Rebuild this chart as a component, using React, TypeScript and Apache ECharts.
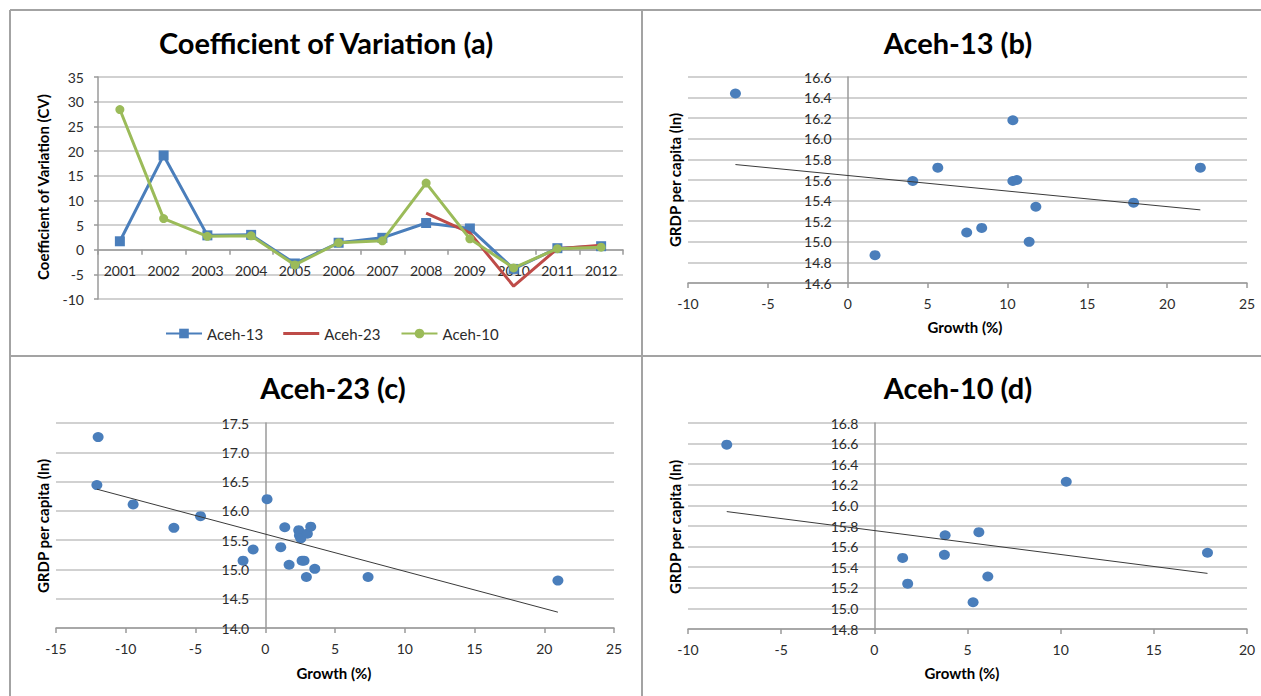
import React, { useEffect, useRef } from "react";
import * as echarts from "echarts";

// ---------- Data ----------
const years = ["2001", "2002", "2003", "2004", "2005", "2006", "2007", "2008", "2009", "2010", "2011", "2012"];
const aceh13CV = [1.7, 19.1, 2.9, 3.0, -2.8, 1.4, 2.4, 5.4, 4.3, -3.9, 0.3, 0.7];
const aceh23CV = [null, null, null, null, null, null, null, 7.4, 3.4, -7.4, 0.2, 0.9];
const aceh10CV = [28.4, 6.3, 2.7, 2.8, -3.1, 1.4, 1.8, 13.5, 2.2, -3.7, 0.2, 0.5];

const aceh13Growth = [-7.03, 1.71, 4.07, 5.64, 7.45, 8.39, 10.34, 10.34, 10.59, 11.36, 11.78, 17.9, 22.08];
const aceh13Grdp = [16.44, 14.87, 15.59, 15.72, 15.09, 15.135, 16.18, 15.59, 15.6, 15.0, 15.34, 15.38, 15.72];
const aceh13Trend = [[-7.03, 15.75], [22.08, 15.31]];

const aceh23Growth = [-12.07, -11.98, -9.47, -6.55, -4.64, -1.59, -0.87, 0.13, 1.11, 1.4, 1.71, 2.4, 2.45, 2.5, 2.55, 2.64, 2.78, 2.95, 3.02, 3.26, 3.55, 7.37, 20.98];
const aceh23Grdp = [16.44, 17.26, 16.11, 15.71, 15.91, 15.15, 15.34, 16.2, 15.38, 15.72, 15.08, 15.67, 15.58, 15.62, 15.53, 15.15, 15.15, 14.87, 15.61, 15.73, 15.01, 14.87, 14.81];
const aceh23Trend = [[-12.07, 16.37], [20.98, 14.27]];

const aceh10Growth = [-7.92, 1.52, 1.79, 3.76, 3.8, 5.3, 5.61, 6.09, 10.3, 17.88];
const aceh10Grdp = [16.59, 15.49, 15.24, 15.52, 15.71, 15.06, 15.74, 15.31, 16.23, 15.54];
const aceh10Trend = [[-7.92, 15.94], [17.88, 15.34]];

const panelTitles = ["Coefficient of Variation (a)", "Aceh-13 (b)", "Aceh-23 (c)", "Aceh-10 (d)"];
const cvAxisTitle = "Coefficient of Variation (CV)";
const grdpAxisTitle = "GRDP per capita (ln)";
const growthAxisTitle = "Growth (%)";

// ---------- Styles ----------
const FONT = "Lato, 'Open Sans', sans-serif";
const BLUE = "#4A7EBB";
const RED = "#BE4B48";
const GREEN = "#9BBB59";
const AXIS_COLOR = "#9a9a9a";
const GRID_COLOR = "#c2c2c2";
const LABEL_COLOR = "#2b2b2b";

const zip = (xs: number[], ys: number[]) => xs.map((x, i) => [x, ys[i]]);

// grid boxes: [left, top, width, height]
const GRIDS = [
  [98, 77, 525, 222],
  [688, 77, 559, 206],
  [56, 423, 558, 205],
  [688, 423, 559, 206],
];

export default function App() {
  const ref = useRef<HTMLDivElement>(null);

  useEffect(() => {
    if (!ref.current) return;
    const chart = echarts.init(ref.current, null, { renderer: "svg", width: 1261, height: 696 });

    const labelStyle = { color: LABEL_COLOR, fontFamily: FONT, fontSize: 14 };
    const axisLine = { show: true, onZero: false, lineStyle: { color: AXIS_COLOR, width: 1.5 } };
    const splitLine = { show: true, lineStyle: { color: GRID_COLOR, width: 1.6 } };
    const fmt1 = (v: number) => v.toFixed(1);

    // pixel distance from grid's left edge to x = 0
    const zeroOffsetX = (gi: number, min: number, max: number) =>
      -(GRIDS[gi][2] * (0 - min)) / (max - min);

    const valueX = (gi: number, min: number, max: number) => ({
      type: "value",
      gridIndex: gi,
      min,
      max,
      interval: 5,
      axisLine,
      axisTick: { show: true, length: 5, lineStyle: { color: AXIS_COLOR, width: 1.5 } },
      axisLabel: { ...labelStyle, margin: 13 },
      splitLine: { show: false },
    });
    const grdpY = (gi: number, min: number, max: number, interval: number, xmin: number, xmax: number) => ({
      type: "value",
      gridIndex: gi,
      min,
      max,
      interval,
      offset: zeroOffsetX(gi, xmin, xmax),
      axisLine,
      axisTick: { show: false },
      axisLabel: { ...labelStyle, margin: 16, formatter: fmt1 },
      splitLine,
    });

    const scatter = (name: string, idx: number, xs: number[], ys: number[]) => ({
      name,
      type: "scatter",
      xAxisIndex: idx,
      yAxisIndex: idx,
      data: zip(xs, ys),
      symbol: "circle",
      symbolSize: [11, 10],
      itemStyle: { color: BLUE, opacity: 1 },
      z: 3,
    });
    const trend = (name: string, idx: number, pts: number[][]) => ({
      name,
      type: "line",
      xAxisIndex: idx,
      yAxisIndex: idx,
      data: pts,
      symbol: "none",
      lineStyle: { color: "#3a3a3a", width: 1 },
      z: 4,
    });

    const txt = (text: string, x: number, y: number, size: number, rotated: boolean) => ({
      type: "text",
      x,
      y,
      rotation: rotated ? Math.PI / 2 : 0,
      style: {
        text,
        fill: "#000",
        fontFamily: FONT,
        fontSize: size,
        fontWeight: "bold",
        textAlign: "center",
        textVerticalAlign: "middle",
        align: "center",
        verticalAlign: "middle",
      },
    });
    const border = (x1: number, y1: number, x2: number, y2: number) => ({
      type: "line",
      shape: { x1, y1, x2, y2 },
      style: { stroke: "#a3a3a3", lineWidth: 2 },
      z: 100,
    });

    // y position of value 0 in panel (a), as offset from grid bottom
    const cvMin = -10;
    const cvMax = 35;
    const cvZeroOffset = -(GRIDS[0][3] * (0 - cvMin)) / (cvMax - cvMin);

    const TITLE = 29;
    const AXT = 15;

    const option: any = {
      animation: false,
      backgroundColor: "#ffffff",
      grid: GRIDS.map(([left, top, width, height]) => ({ left, top, width, height, outerBoundsMode: "none" })),
      legend: {
        data: [
          "Aceh-13",
          { name: "Aceh-23", icon: "path://M0,0L0,0M0,4.6L36,4.6L36,7.4L0,7.4ZM36,12L36,12" },
          "Aceh-10",
        ],
        left: 165,
        top: 326,
        itemWidth: 36,
        itemHeight: 12,
        itemGap: 20,
        padding: 0,
        textStyle: { color: LABEL_COLOR, fontFamily: FONT, fontSize: 15 },
      },
      xAxis: [
        {
          type: "category",
          gridIndex: 0,
          data: years,
          boundaryGap: true,
          offset: cvZeroOffset,
          axisLine,
          axisTick: { show: true, length: 5, alignWithLabel: false, lineStyle: { color: AXIS_COLOR, width: 1.5 } },
          axisLabel: { ...labelStyle, margin: 14, interval: 0 },
          splitLine: { show: false },
        },
        valueX(1, -10, 25),
        valueX(2, -15, 25),
        valueX(3, -10, 20),
      ],
      yAxis: [
        {
          type: "value",
          gridIndex: 0,
          min: cvMin,
          max: cvMax,
          interval: 5,
          axisLine,
          axisTick: { show: true, length: 4, lineStyle: { color: AXIS_COLOR, width: 1.5 } },
          axisLabel: { ...labelStyle, margin: 14 },
          splitLine,
        },
        grdpY(1, 14.6, 16.6, 0.2, -10, 25),
        grdpY(2, 14.0, 17.5, 0.5, -15, 25),
        grdpY(3, 14.8, 16.8, 0.2, -10, 20),
      ],
      series: [
        {
          name: "Aceh-13",
          type: "line",
          xAxisIndex: 0,
          yAxisIndex: 0,
          data: aceh13CV,
          symbol: "rect",
          symbolSize: 10,
          showAllSymbol: true,
          lineStyle: { color: BLUE, width: 3 },
          itemStyle: { color: BLUE },
          z: 3,
        },
        {
          name: "Aceh-23",
          type: "line",
          xAxisIndex: 0,
          yAxisIndex: 0,
          data: aceh23CV,
          symbol: "none",
          connectNulls: false,
          lineStyle: { color: RED, width: 3 },
          itemStyle: { color: RED },
          z: 4,
        },
        {
          name: "Aceh-10",
          type: "line",
          xAxisIndex: 0,
          yAxisIndex: 0,
          data: aceh10CV,
          symbol: "circle",
          symbolSize: 9,
          showAllSymbol: true,
          lineStyle: { color: GREEN, width: 3 },
          itemStyle: { color: GREEN },
          z: 5,
        },
        scatter("Aceh-13 points", 1, aceh13Growth, aceh13Grdp),
        trend("Aceh-13 trend", 1, aceh13Trend),
        scatter("Aceh-23 points", 2, aceh23Growth, aceh23Grdp),
        trend("Aceh-23 trend", 2, aceh23Trend),
        scatter("Aceh-10 points", 3, aceh10Growth, aceh10Grdp),
        trend("Aceh-10 trend", 3, aceh10Trend),
      ],
      graphic: [
        border(10, 10, 1261, 10),
        border(10, 10, 10, 696),
        border(642, 10, 642, 696),
        border(10, 356, 1261, 356),
        txt(panelTitles[0], 326, 42, TITLE, false),
        txt(panelTitles[1], 958, 42, TITLE, false),
        txt(panelTitles[2], 333, 387, TITLE, false),
        txt(panelTitles[3], 958, 387, TITLE, false),
        txt(cvAxisTitle, 43, 187, AXT, true),
        txt(grdpAxisTitle, 675, 180, AXT, true),
        txt(growthAxisTitle, 965, 327, AXT, false),
        txt(grdpAxisTitle, 43, 526, AXT, true),
        txt(growthAxisTitle, 334, 673, AXT, false),
        txt(grdpAxisTitle, 675, 527, AXT, true),
        txt(growthAxisTitle, 962, 673, AXT, false),
      ],
    };

    chart.setOption(option);
    return () => {
      chart.dispose();
    };
  }, []);

  return (
    <div
      ref={ref}
      style={{ position: "fixed", left: 0, top: 0, width: 1261, height: 696, background: "#fff" }}
    />
  );
}
